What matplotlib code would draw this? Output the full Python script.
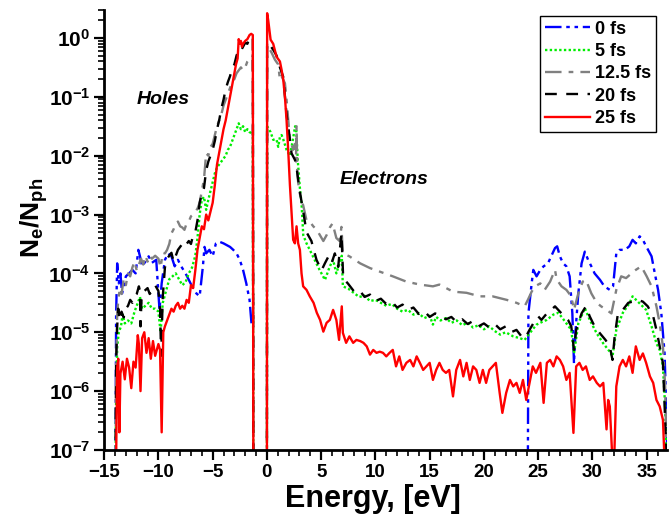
import numpy as np
import matplotlib.pyplot as plt
from matplotlib.ticker import MultipleLocator, LogLocator, NullFormatter

plt.rcParams['font.family'] = ['Liberation Sans', 'DejaVu Sans']
plt.rcParams['font.weight'] = 'bold'
plt.rcParams['mathtext.fontset'] = 'custom'
plt.rcParams['mathtext.rm'] = 'Liberation Sans:bold'
plt.rcParams['mathtext.it'] = 'Liberation Sans:bold:italic'
plt.rcParams['mathtext.bf'] = 'Liberation Sans:bold'
plt.rcParams['mathtext.default'] = 'rm'

# spectra as log10(Ne/Nph); holes (E<0) and electrons (E>0) kept apart
e_h_0 = [-13.95, -13.9, -13.8, -13.65, -13.5, -13.35, -13.0, -12.7, -12.4, -12.1, -11.85, -11.7,
         -11.5, -11.2, -10.9, -10.6, -10.2, -9.9, -9.7, -9.4, -9.1, -8.8, -8.5, -8.2, -7.9, -7.5,
         -7.2, -6.9, -6.5, -6.2, -5.9, -5.75, -5.6, -5.3, -5.0, -4.7, -4.4, -4.0, -3.7, -3.4,
         -3.1, -2.8, -2.5, -2.2, -1.9, -1.6, -1.4]
lg_h_0 = [-7.2, -4.73, -3.83, -4.17, -4.0, -4.34, -4.05, -4.0, -3.94, -4.0, -3.6, -3.71,
          -3.88, -3.8, -3.71, -3.82, -3.77, -4.62, -4.17, -3.77, -3.66, -3.71, -3.88, -3.77, -3.88, -4.0,
          -4.11, -4.22, -4.34, -4.39, -3.88, -3.55, -3.66, -3.6, -3.71, -3.49, -3.46, -3.49, -3.52, -3.55,
          -3.6, -3.66, -3.77, -3.94, -4.17, -4.45, -4.9]
e_e_0 = [24.05, 24.1, 24.4, 24.55, 24.85, 25.2, 25.5, 25.9, 26.2, 26.55, 26.75, 27.0, 27.3, 27.6,
         27.9, 28.15, 28.3, 28.45, 28.7, 29.0, 29.3, 29.6, 29.9, 30.2, 30.7, 31.1, 31.6, 31.9, 32.2,
         32.5, 33.0, 33.4, 33.7, 34.0, 34.35, 34.65, 34.95, 35.45, 35.75, 36.05, 36.35, 36.65, 36.8, 36.9]
lg_e_0 = [-7.2, -4.68, -4.17, -3.94, -4.05, -3.94, -3.88, -3.83, -3.71, -3.57, -3.54, -3.71, -3.83, -3.88,
          -4.05, -4.68, -5.53, -4.96, -4.34, -3.83, -3.63, -3.77, -3.88, -4.0, -4.11, -4.22, -4.28, -4.22, -3.66,
          -3.6, -3.6, -3.54, -3.43, -3.49, -3.37, -3.43, -3.54, -3.71, -4.0, -4.28, -4.68, -5.36, -6.26, -7.2]

e_h_5 = [-13.95, -13.9, -13.8, -13.65, -13.45, -13.3, -13.1, -12.8, -12.5, -12.2, -11.9, -11.7, -11.5,
         -11.2, -10.9, -10.6, -10.3, -10.0, -9.8, -9.6, -9.3, -9.0, -8.7, -8.4, -8.1, -7.8, -7.5, -7.2,
         -6.9, -6.6, -6.4, -6.2, -6.0, -5.8, -5.6, -5.4, -5.2, -5.0, -4.8, -4.6, -4.4, -4.2, -4.0, -3.8,
         -3.6, -3.4, -3.2, -3.0, -2.8, -2.6, -2.4, -2.2, -2.0, -1.8, -1.6, -1.4, -1.3, -1.25]
lg_h_5 = [-7.2, -6.15, -5.25, -5.0, -4.9, -4.7, -4.85, -4.8, -4.85, -4.65, -4.5, -4.4, -4.6,
          -4.55, -4.5, -4.6, -4.6, -4.65, -5.0, -4.5, -4.3, -4.1, -4.05, -4.0, -4.1, -4.2, -4.15, -4.0,
          -3.9, -3.7, -3.4, -3.0, -2.75, -2.7, -2.92, -2.75, -2.6, -2.45, -2.3, -2.2, -2.15, -2.1, -2.05, -2.0,
          -1.9, -1.85, -1.75, -1.65, -1.55, -1.45, -1.55, -1.5, -1.6, -1.55, -1.6, -1.62, -1.6, -7.2]
e_e_5 = [0.0, 0.02, 0.34, 0.58, 0.89, 1.04, 1.2, 1.35, 1.5, 1.81, 2.12, 2.42, 2.6, 2.7, 2.85, 3.04,
         3.19, 3.35, 3.65, 3.95, 4.4, 4.85, 5.35, 5.8, 6.1, 6.4, 6.9, 7.0, 7.5, 8.0, 8.5, 9.0, 9.5,
         10.0, 10.5, 11.0, 11.5, 12.0, 12.5, 13.0, 13.5, 14.0, 14.5, 15.0, 15.3, 15.6, 16.0, 16.5,
         17.0, 17.5, 18.0, 18.5, 19.0, 19.5, 20.0, 20.5, 21.0, 21.5, 22.0, 22.7, 23.3, 23.75, 24.2,
         24.85, 25.3, 25.8, 26.4, 26.85, 27.2, 27.6, 28.05, 28.3, 28.7, 29.3, 29.75, 30.4, 31.0,
         31.6, 31.85, 32.2, 32.8, 33.4, 33.7, 34.35, 34.95, 35.45, 35.9, 36.2, 36.5, 36.7, 36.85]
lg_e_5 = [-7.2, -1.5, -1.6, -1.73, -1.73, -1.85, -1.68, -1.65, -1.72, -1.9, -2.0, -1.7, -1.5, -1.55, -2.1, -2.55,
          -2.81, -3.35, -3.49, -3.6, -3.77, -3.94, -4.11, -3.88, -3.77, -4.0, -3.7, -4.22, -4.26, -4.33, -4.4, -4.38, -4.47,
          -4.45, -4.5, -4.55, -4.52, -4.6, -4.65, -4.62, -4.7, -4.68, -4.76, -4.72, -4.87, -4.74, -4.8, -4.76,
          -4.84, -4.8, -4.88, -4.84, -4.92, -4.88, -4.95, -4.9, -4.98, -5.04, -5.0, -5.07, -5.1, -5.13, -5.02,
          -4.87, -4.83, -4.79, -4.7, -4.67, -4.75, -4.85, -4.96, -5.36, -4.85, -4.59, -4.79, -5.02, -5.19,
          -5.33, -5.41, -4.96, -4.67, -4.51, -4.39, -4.51, -4.62, -4.9, -5.19, -5.3, -5.58, -6.26, -7.2]

e_h_12 = [-13.95, -13.9, -13.8, -13.7, -13.55, -13.4, -13.2, -13.0, -12.8, -12.6, -12.4, -12.2, -12.0,
          -11.8, -11.6, -11.4, -11.2, -11.0, -10.8, -10.6, -10.3, -10.0, -9.8, -9.6, -9.4, -9.2, -9.0,
          -8.8, -8.6, -8.4, -8.2, -8.0, -7.8, -7.6, -7.4, -7.2, -7.0, -6.8, -6.6, -6.4, -6.2, -6.0,
          -5.8, -5.6, -5.4, -5.2, -5.0, -4.8, -4.6, -4.4, -4.2, -4.0, -3.8, -3.6, -3.4, -3.2, -3.0,
          -2.8, -2.6, -2.4, -2.2, -2.0, -1.8, -1.6, -1.45, -1.3, -1.25]
lg_h_12 = [-7.2, -5.6, -4.7, -4.45, -4.25, -4.35, -4.1, -4.2, -4.0, -4.05, -3.9, -3.8, -3.95,
           -3.85, -3.75, -3.85, -3.7, -3.8, -3.7, -3.75, -3.7, -3.75, -3.9, -3.65, -3.66, -3.6, -3.5,
           -3.32, -3.25, -3.15, -3.12, -3.2, -3.22, -3.26, -3.15, -3.12, -3.03, -3.0, -2.95, -2.9, -2.8, -2.6,
           -2.4, -1.96, -2.0, -1.85, -1.8, -1.65, -1.5, -1.4, -1.3, -1.15, -1.05, -0.95, -0.85, -0.75, -0.7,
           -0.6, -0.55, -0.5, -0.55, -0.5, -0.4, -0.35, -0.3, -0.3, -7.2]
e_e_12 = [0.0, 0.02, 0.12, 0.43, 0.74, 1.04, 1.2, 1.35, 1.66, 1.81, 2.12, 2.42, 2.58, 2.68, 2.73, 2.8,
          2.89, 3.04, 3.35, 3.65, 3.95, 4.27, 4.6, 4.88, 5.2, 5.5, 5.8, 6.05, 6.4, 6.7, 6.87, 7.0,
          7.6, 8.6, 9.5, 10.4, 11.6, 12.85, 14.1, 15.3, 15.9, 17.15, 18.4, 19.6, 20.8, 22.1, 23.0,
          23.75, 24.05, 24.4, 24.7, 25.2, 25.6, 26.1, 26.55, 26.7, 27.15, 27.6, 28.05, 28.3, 28.7,
          29.1, 29.4, 29.9, 30.4, 30.8, 31.3, 31.75, 32.2, 32.65, 33.1, 33.6, 34.0, 34.5, 35.0, 35.45,
          35.9, 36.2, 36.5, 36.7, 36.85]
lg_e_12 = [-7.2, -0.1, -0.15, -0.25, -0.37, -0.45, -0.71, -0.65, -0.77, -1.05, -1.73, -1.9, -1.8, -2.1, -1.5, -2.3,
           -2.47, -2.65, -2.85, -3.1, -3.12, -3.2, -3.26, -3.35, -3.45, -3.35, -3.22, -3.15, -3.4, -3.45, -3.21, -3.66,
           -3.71, -3.83, -3.91, -3.97, -4.05, -4.14, -4.19, -4.22, -4.19, -4.31, -4.33, -4.39, -4.39, -4.45, -4.5,
           -4.56, -4.45, -4.31, -4.22, -4.17, -4.28, -4.14, -3.94, -4.1, -4.22, -4.28, -4.39, -4.62, -4.34,
           -4.14, -4.11, -4.34, -4.5, -4.56, -4.62, -4.68, -4.28, -4.05, -4.08, -4.0, -3.94, -3.88, -4.05, -4.22,
           -4.56, -4.85, -5.25, -5.9, -7.2]

e_h_20 = [-13.95, -13.9, -13.8, -13.7, -13.6, -13.4, -13.2, -13.0, -12.8, -12.6, -12.4, -12.2, -12.0,
          -11.8, -11.7, -11.65, -11.55, -11.3, -11.0, -10.8, -10.6, -10.3, -10.0, -9.85, -9.75, -9.6,
          -9.4, -9.2, -9.0, -8.8, -8.6, -8.4, -8.2, -8.0, -7.8, -7.6, -7.4, -7.2, -7.0, -6.8, -6.6,
          -6.4, -6.2, -6.0, -5.8, -5.6, -5.4, -5.2, -5.0, -4.8, -4.6, -4.4, -4.2, -4.0, -3.8, -3.6,
          -3.4, -3.2, -3.0, -2.8, -2.6, -2.4, -2.2, -2.0, -1.8, -1.6, -1.4, -1.3, -1.25]
lg_h_20 = [-7.2, -5.5, -4.9, -4.6, -4.8, -4.65, -4.75, -4.6, -4.55, -4.45, -4.5, -4.39, -4.35,
           -4.22, -4.3, -4.9, -4.4, -4.3, -4.25, -4.35, -4.3, -4.2, -4.3, -4.6, -5.4, -4.4,
           -3.9, -3.75, -3.7, -3.65, -3.8, -3.7, -3.6, -3.55, -3.5, -3.55, -3.5, -3.45, -3.5, -3.35, -3.3,
           -3.1, -2.8, -2.65, -2.55, -2.25, -2.1, -2.0, -1.9, -1.75, -1.55, -1.4, -1.2, -1.05, -0.87, -0.75,
           -0.65, -0.52, -0.45, -0.3, -0.2, -0.22, -0.15, -0.08, -0.1, 0.0, 0.02, 0.02, -7.2]
e_e_20 = [0.0, 0.02, 0.12, 0.58, 0.89, 1.2, 1.5, 1.66, 1.81, 2.0, 2.27, 2.58, 2.73, 2.89, 3.04, 3.35,
          3.65, 4.1, 4.57, 5.03, 5.34, 5.65, 5.95, 6.26, 6.57, 6.87, 7.03, 7.5, 8.0, 8.5, 9.0, 9.5,
          10.0, 10.5, 11.0, 11.5, 12.0, 12.5, 13.0, 13.5, 14.0, 14.5, 15.0, 15.5, 16.0, 16.5, 17.0,
          17.5, 18.0, 18.5, 19.0, 19.5, 20.0, 20.5, 21.0, 21.5, 22.0, 22.5, 23.0, 23.5, 23.8, 24.2,
          24.55, 25.0, 25.3, 25.8, 26.2, 26.55, 26.85, 27.15, 27.45, 27.75, 28.05, 28.3, 28.5, 29.0,
          29.4, 29.75, 30.2, 30.7, 31.2, 31.6, 31.85, 32.05, 32.35, 32.8, 33.3, 33.7, 34.2, 34.65,
          35.1, 35.6, 35.9, 36.2, 36.5, 36.7, 36.85]
lg_e_20 = [-7.2, -0.1, -0.08, -0.2, -0.3, -0.5, -0.66, -1.0, -1.3, -1.55, -1.96, -2.07, -2.2, -2.41, -2.62, -2.95,
           -3.3, -3.45, -3.77, -3.95, -3.83, -3.72, -3.83, -3.66, -3.89, -3.32, -4.08, -4.18, -4.3, -4.28, -4.4, -4.36,
           -4.47, -4.43, -4.52, -4.48, -4.58, -4.53, -4.62, -4.58, -4.69, -4.64, -4.74, -4.68, -4.72, -4.78, -4.74,
           -4.83, -4.78, -4.86, -4.81, -4.9, -4.85, -4.92, -4.86, -4.95, -4.9, -5.0, -4.96, -5.08, -5.1, -4.96,
           -4.85, -4.73, -4.79, -4.68, -4.62, -4.56, -4.62, -4.68, -4.73, -4.79, -4.9, -5.3, -4.96, -4.68,
           -4.56, -4.73, -4.9, -5.02, -5.13, -5.24, -5.47, -5.07, -4.68, -4.62, -4.5, -4.48, -4.45, -4.48,
           -4.56, -4.73, -4.96, -5.24, -5.53, -6.49, -7.2]

e_h_25 = [-13.9, -13.8, -13.7, -13.6, -13.5, -13.3, -13.1, -12.9, -12.7, -12.5, -12.3, -12.1, -11.9,
          -11.8, -11.65, -11.5, -11.3, -11.1, -10.9, -10.7, -10.5, -10.3, -10.0, -9.85, -9.7, -9.55,
          -9.4, -9.2, -9.0, -8.8, -8.6, -8.4, -8.2, -8.0, -7.8, -7.6, -7.4, -7.2, -7.0, -6.8, -6.6,
          -6.4, -6.2, -6.0, -5.8, -5.6, -5.4, -5.2, -5.0, -4.8, -4.6, -4.4, -4.2, -4.0, -3.8, -3.6,
          -3.4, -3.2, -3.0, -2.85, -2.7, -2.6, -2.5, -2.4, -2.3, -2.2, -2.0, -1.8, -1.6, -1.45, -1.3, -1.25]
lg_h_25 = [-7.2, -5.6, -5.45, -6.7, -5.7, -5.5, -5.8, -5.45, -5.6, -5.95, -5.5, -5.6, -5.05,
           -5.2, -6.0, -5.1, -5.0, -5.35, -5.1, -5.45, -5.15, -5.4, -5.2, -5.3, -6.7, -5.0,
           -4.9, -4.8, -4.7, -4.6, -4.65, -4.55, -4.5, -4.6, -4.55, -4.6, -4.45, -4.5, -4.2, -4.25, -3.95,
           -3.6, -3.4, -3.2, -3.25, -3.0, -3.1, -2.95, -2.8, -2.5, -2.15, -1.95, -1.75, -1.55, -1.4, -1.2,
           -1.0, -0.8, -0.6, -0.45, -0.35, -0.02, -0.1, -0.05, -0.15, -0.1, -0.05, -0.02, 0.05, 0.07, 0.05, -7.2]
e_e_25 = [0.0, 0.02, 0.12, 0.34, 0.58, 0.89, 1.2, 1.35, 1.5, 1.66, 1.81, 1.96, 2.12, 2.27, 2.42, 2.58,
          2.73, 2.88, 3.04, 3.19, 3.34, 3.65, 3.95, 4.3, 4.6, 4.9, 5.2, 5.5, 5.8, 6.1, 6.4, 6.65, 6.9,
          7.0, 7.3, 7.6, 7.95, 8.25, 8.6, 8.9, 9.2, 9.5, 9.8, 10.1, 10.4, 10.7, 11.0, 11.3, 11.6,
          11.9, 12.2, 12.5, 12.85, 13.2, 13.5, 13.8, 14.1, 14.4, 14.7, 15.0, 15.3, 15.6, 15.9, 16.2,
          16.5, 16.8, 17.15, 17.45, 17.8, 18.1, 18.4, 18.7, 19.0, 19.3, 19.6, 19.9, 20.2, 20.5, 20.8,
          21.1, 21.45, 21.7, 22.05, 22.4, 22.7, 23.0, 23.3, 23.6, 23.9, 24.2, 24.5, 24.8, 25.2, 25.5,
          25.8, 26.1, 26.4, 26.7, 27.0, 27.3, 27.6, 27.9, 28.25, 28.5, 28.8, 29.1, 29.4, 29.75, 30.05,
          30.4, 30.7, 31.0, 31.3, 31.45, 31.6, 31.85, 32.0, 32.2, 32.5, 32.8, 33.1, 33.4, 33.7, 34.0,
          34.35, 34.65, 34.95, 35.3, 35.6, 35.9, 36.2, 36.5, 36.65]
lg_e_25 = [-7.2, 0.42, 0.3, -0.03, -0.1, -0.32, -0.4, -0.54, -0.7, -1.0, -1.4, -1.9, -2.5, -2.95, -3.43, -3.49,
           -3.2, -3.49, -3.6, -4.0, -4.22, -4.28, -4.39, -4.5, -4.67, -4.79, -4.99, -4.84, -4.79, -4.62, -4.79, -5.13, -4.56,
           -5.01, -5.18, -5.07, -5.18, -5.13, -5.15, -5.18, -5.24, -5.38, -5.3, -5.35, -5.33, -5.35, -5.41, -5.35, -5.3,
           -5.58, -5.41, -5.64, -5.52, -5.47, -5.58, -5.41, -5.52, -5.64, -5.58, -5.52, -5.81, -5.64, -5.52, -5.64,
           -5.69, -5.64, -6.09, -5.64, -5.47, -5.75, -5.52, -5.81, -5.58, -5.64, -5.86, -5.64, -5.86, -5.64, -5.58,
           -5.52, -6.03, -6.37, -6.03, -5.81, -5.92, -5.86, -6.03, -5.81, -6.15, -5.86, -5.58, -5.69, -5.52, -6.2,
           -5.52, -5.47, -5.58, -5.41, -5.47, -5.58, -5.81, -5.69, -6.71, -5.58, -5.52, -5.64, -5.58, -5.81, -5.75,
           -5.86, -5.92, -5.86, -6.65, -6.15, -6.26, -7.2, -7.2, -5.92, -5.58, -5.47, -5.58, -5.41, -5.69, -5.24,
           -5.47, -5.36, -5.52, -5.75, -5.86, -6.15, -6.26, -6.49, -7.2]

labels = ['0 fs', '5 fs', '12.5 fs', '20 fs', '25 fs']
holes = [(e_h_0, lg_h_0), (e_h_5, lg_h_5), (e_h_12, lg_h_12), (e_h_20, lg_h_20), (e_h_25, lg_h_25)]
electrons = [(e_e_0, lg_e_0), (e_e_5, lg_e_5), (e_e_12, lg_e_12), (e_e_20, lg_e_20), (e_e_25, lg_e_25)]

colors = ['#0000ff', '#00ee00', '#808080', 'black', '#ff0000']
styles = [(0, (7, 2, 1.5, 2, 1.5, 2)), (0, (1, 1)), (0, (7, 3, 2, 3)), (0, (5, 4)), '-']

fig = plt.figure(figsize=(6.72, 5.19), dpi=100)
ax = fig.add_axes([0.155, 0.133, 0.838, 0.848])

for (eh, lh), (ee, le), c, ls, lab in zip(holes, electrons, colors, styles, labels):
    # NaN splits the hole branch from the electron branch
    x = np.concatenate([eh, [np.nan], ee])
    y = 10.0 ** np.concatenate([lh, [np.nan], le])
    ax.plot(x, y, color=c, linestyle=ls, lw=1.7, label=lab)

ax.set_yscale('log')
ax.set_xlim(-15, 36.9)
ax.set_ylim(1e-7, 3.0)

ax.xaxis.set_major_locator(MultipleLocator(5))
ax.xaxis.set_minor_locator(MultipleLocator(1))
ax.yaxis.set_major_locator(LogLocator(base=10, numticks=12))
ax.yaxis.set_minor_locator(LogLocator(base=10, subs=np.arange(2, 10), numticks=12))
ax.yaxis.set_minor_formatter(NullFormatter())

for s in ['top', 'right']:
    ax.spines[s].set_visible(False)
for s in ['left', 'bottom']:
    ax.spines[s].set_linewidth(2)
ax.tick_params(which='major', direction='out', length=7, width=1.6, pad=3)
ax.tick_params(which='minor', direction='out', length=4, width=1.2)
ax.tick_params(axis='x', labelsize=13.5)
ax.tick_params(axis='y', labelsize=15)

ax.set_xlabel('Energy, [eV]', fontsize=22, fontweight='bold')
ax.xaxis.set_label_coords(0.478, -0.077)
ax.set_ylabel(r'$N_e/N_{ph}$', fontsize=19)
ax.yaxis.set_label_coords(-0.096, 0.527)

ax.text(-12.0, 0.089, 'Holes', fontsize=14, fontstyle='italic', fontweight='bold', va='center')
ax.text(6.7, 3.9e-3, 'Electrons', fontsize=14, fontstyle='italic', fontweight='bold', va='center')

leg = ax.legend(loc='upper right', bbox_to_anchor=(0.98, 0.986), fontsize=13, frameon=True,
                fancybox=False, edgecolor='black', framealpha=1, handlelength=2.5,
                handletextpad=0.3, borderpad=0.25, labelspacing=0.3, borderaxespad=0)
leg.get_frame().set_linewidth(1.0)
for t in leg.get_texts():
    t.set_fontweight('bold')

fig.savefig('out.png', dpi=100)
